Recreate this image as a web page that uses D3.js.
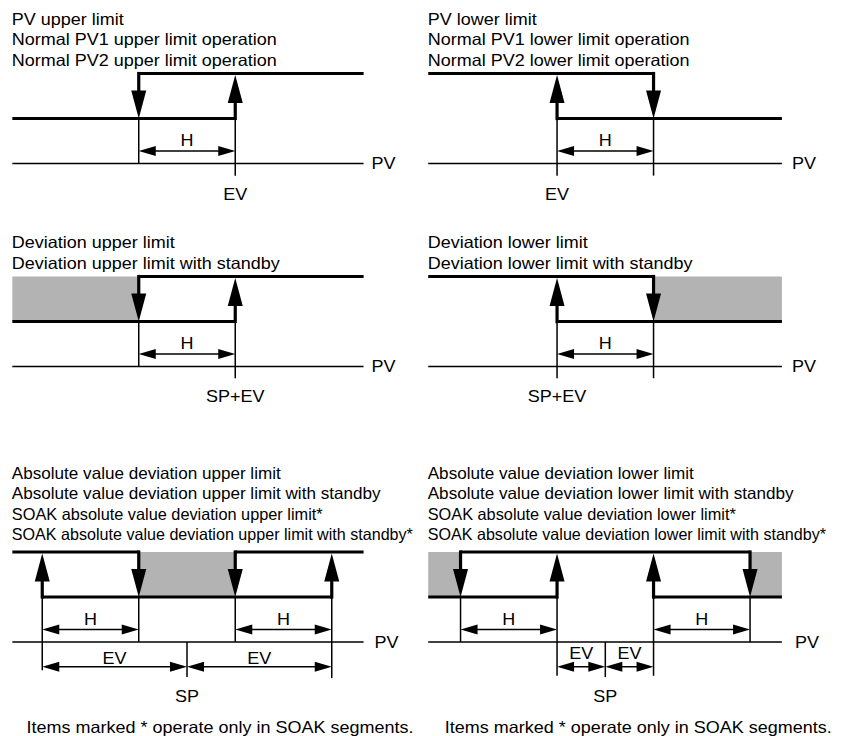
<!DOCTYPE html>
<html><head><meta charset="utf-8">
<script src="https://cdn.jsdelivr.net/npm/d3@7"></script>
<style>html,body{margin:0;padding:0;background:#fff}svg{display:block}</style>
</head><body>
<svg id="c" width="841" height="736"></svg>
<script>
// ---------- data (PV in units of H, SP at 0; levels: 1 = ON, 0 = OFF, -1 = PV axis) ----------
const panelTitles = [
  ["PV upper limit", "Normal PV1 upper limit operation", "Normal PV2 upper limit operation"],
  ["PV lower limit", "Normal PV1 lower limit operation", "Normal PV2 lower limit operation"],
  ["Deviation upper limit", "Deviation upper limit with standby"],
  ["Deviation lower limit", "Deviation lower limit with standby"],
  ["Absolute value deviation upper limit", "Absolute value deviation upper limit with standby",
   "SOAK absolute value deviation upper limit*", "SOAK absolute value deviation upper limit with standby*"],
  ["Absolute value deviation lower limit", "Absolute value deviation lower limit with standby",
   "SOAK absolute value deviation lower limit*", "SOAK absolute value deviation lower limit with standby*"]
];
const pvAxisRange = [[-1.81, 1.83], [-1.835, 1.83], [-1.81, 1.83], [-1.835, 1.83], [-1.81, 1.83], [-1.835, 1.83]];
const highSegments = [[[-0.5, 1.83]], [[-1.835, 0.5]], [[-0.5, 1.83]], [[-1.835, 0.5]],
                      [[-1.81, -0.5], [0.5, 1.83]], [[-1.5, 1.5]]];
const lowSegments  = [[[-1.81, 0.5]], [[-0.5, 1.83]], [[-1.81, 0.5]], [[-0.5, 1.83]],
                      [[-1.5, 1.5]], [[-1.835, -0.5], [0.5, 1.83]]];
const downArrows = [[-0.5], [0.5], [-0.5], [0.5], [-0.5, 0.5], [-1.5, 1.5]];
const upArrows   = [[0.5], [-0.5], [0.5], [-0.5], [-1.5, 1.5], [-0.5, 0.5]];
const standbyZones = [[], [], [[-1.81, -0.5]], [[0.5, 1.83]], [[-0.5, 0.5]], [[-1.835, -1.5], [1.5, 1.83]]];
const hDims  = [[[-0.5, 0.5]], [[-0.5, 0.5]], [[-0.5, 0.5]], [[-0.5, 0.5]],
                [[-1.5, -0.5], [0.5, 1.5]], [[-1.5, -0.5], [0.5, 1.5]]];
const evDims = [[], [], [], [], [[-1.5, 0], [0, 1.5]], [[-0.5, 0], [0, 0.5]]];
// guide lines: [pv, fromLevel, toLevel]
const guideLines = [
  [[-0.5, 0, -1], [0.5, 0, -1.27]],
  [[-0.5, 0, -1.27], [0.5, 0, -1.27]],
  [[-0.5, 0, -1], [0.5, 0, -1.26]],
  [[-0.5, 0, -1.26], [0.5, 0, -1.26]],
  [[-1.5, 0, -1.63], [-0.5, 0, -1], [0.5, 0, -1], [1.5, 0, -1.8], [0, -1, -1.78]],
  [[-1.5, 0, -1], [-0.5, 0, -1.75], [0.5, 0, -1.75], [1.5, 0, -1], [0, -1, -1.78]]
];
// point labels: [text, pv, level]
const pointLabels = [
  [["EV", 0.5, -1.8]], [["EV", -0.5, -1.8]],
  [["SP+EV", 0.5, -1.78]], [["SP+EV", -0.5, -1.78]],
  [["SP", 0, -2.33]], [["SP", 0, -2.33]]
];
const evLabelLevel = [null, null, null, null, -1.49, -1.37];
const footnoteText = ["", "", "", "", "Items marked * operate only in SOAK segments.", "Items marked * operate only in SOAK segments."];

// ---------- layout / style ----------
const colCenter = [187, 605.3];
const unitPx = 96.5;
const rowTop = [73.5, 276.5, 552];      // y of ON level
const levelPx = 45;
const titleLastOffset = [8, 8, 12];
const titleStep = 20.3;
const thick = 3.2, thin = 1.5;
const bigHead = {len: 28, half: 7.5};
const smallHead = {len: 17, half: 5};
const font = "'Liberation Sans', Arial, Helvetica, sans-serif";
const fontSize = 16.5;
const baseStretch = 1.09;                       // the source lettering is set a little wide
const titleStretchRow3 = [1.036, 1.036, 0.988, 0.976];

const svg = d3.select("#c");

function arrowHead(g, tipX, tipY, dx, dy, head) {
  const bx = tipX - dx * head.len, by = tipY - dy * head.len;
  const px = -dy * head.half, py = dx * head.half;
  g.append("path")
    .attr("d", `M${tipX},${tipY}L${bx + px},${by + py}L${bx - px},${by - py}Z`)
    .attr("fill", "#000");
}
function dimArrow(g, x0, x1, y) {
  g.append("line").attr("x1", x0 + smallHead.len - 2).attr("x2", x1 - smallHead.len + 2)
    .attr("y1", y).attr("y2", y).attr("stroke", "#000").attr("stroke-width", thin);
  arrowHead(g, x0, y, -1, 0, smallHead);
  arrowHead(g, x1, y, 1, 0, smallHead);
}
function label(g, t, x, y, anchor, stretch) {
  return g.append("text").text(t).attr("x", x).attr("y", y)
    .attr("text-anchor", anchor || "start")
    .attr("data-stretch", stretch || baseStretch);
}

panelTitles.forEach((titles, i) => {
  const row = Math.floor(i / 2), col = i % 2;
  const x = d3.scaleLinear().domain([-1.5, 1.5])
    .range([colCenter[col] - 1.5 * unitPx, colCenter[col] + 1.5 * unitPx]);
  const y = d3.scaleLinear().domain([1, -1]).range([rowTop[row], rowTop[row] + 2 * levelPx]);
  const g = svg.append("g");

  g.selectAll("rect.sb").data(standbyZones[i]).join("rect")
    .attr("x", d => x(d[0])).attr("width", d => x(d[1]) - x(d[0]))
    .attr("y", y(1)).attr("height", y(0) - y(1)).attr("fill", "#b3b3b3");

  const ax = pvAxisRange[i];
  g.append("line").attr("x1", x(ax[0])).attr("x2", x(ax[1]))
    .attr("y1", y(-1)).attr("y2", y(-1)).attr("stroke", "#000").attr("stroke-width", thin);
  label(g, "PV", x(ax[1]) + (row === 2 ? 11 : 8) + (col ? 2 : 0), y(-1) + 5.5);

  g.selectAll("line.gd").data(guideLines[i]).join("line")
    .attr("x1", d => x(d[0])).attr("x2", d => x(d[0]))
    .attr("y1", d => y(d[1])).attr("y2", d => y(d[2]))
    .attr("stroke", "#000").attr("stroke-width", thin);

  highSegments[i].forEach(s => g.append("line").attr("x1", x(s[0])).attr("x2", x(s[1]))
    .attr("y1", y(1)).attr("y2", y(1)).attr("stroke", "#000").attr("stroke-width", thick));
  lowSegments[i].forEach(s => g.append("line").attr("x1", x(s[0])).attr("x2", x(s[1]))
    .attr("y1", y(0)).attr("y2", y(0)).attr("stroke", "#000").attr("stroke-width", thick));

  downArrows[i].forEach(v => {
    g.append("line").attr("x1", x(v)).attr("x2", x(v))
      .attr("y1", y(1) - thick / 2).attr("y2", y(0) - bigHead.len + 2)
      .attr("stroke", "#000").attr("stroke-width", thick);
    arrowHead(g, x(v), y(0), 0, 1, bigHead);
  });
  upArrows[i].forEach(v => {
    g.append("line").attr("x1", x(v)).attr("x2", x(v))
      .attr("y1", y(0) + thick / 2).attr("y2", y(1) + bigHead.len)
      .attr("stroke", "#000").attr("stroke-width", thick);
    arrowHead(g, x(v), y(1) + 1.5, 0, -1, bigHead);
  });

  hDims[i].forEach(d => {
    const yy = y(-0.72);
    dimArrow(g, x(d[0]), x(d[1]), yy);
    label(g, "H", (x(d[0]) + x(d[1])) / 2, yy - 4.5, "middle");
  });
  evDims[i].forEach(d => {
    const yy = y(-1.55);
    dimArrow(g, x(d[0]), x(d[1]), yy);
    label(g, "EV", (x(d[0]) + x(d[1])) / 2, y(evLabelLevel[i]), "middle");
  });

  pointLabels[i].forEach(p => label(g, p[0], x(p[1]), y(p[2]), "middle"));

  const x0 = x(ax[0]) - 0.5;
  const lastY = y(1) - titleLastOffset[row];
  titles.forEach((t, k) => label(g, t, x0, lastY - (titles.length - 1 - k) * titleStep, "start",
    row === 2 ? titleStretchRow3[k] : baseStretch));

  if (footnoteText[i]) label(g, footnoteText[i], x(0) + 33, 733, "middle");
});

svg.selectAll("text").attr("font-family", font).attr("font-size", fontSize).attr("fill", "#000")
  .each(function () {
    const s = +this.getAttribute("data-stretch");
    const w = this.getComputedTextLength();
    d3.select(this).attr("textLength", w * s).attr("lengthAdjust", "spacingAndGlyphs");
  });
</script>
</body></html>
